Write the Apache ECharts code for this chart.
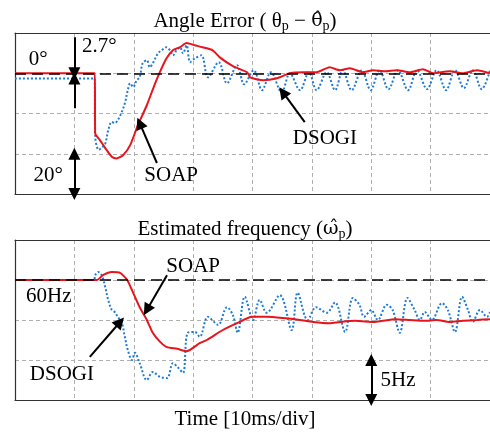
<!DOCTYPE html>
<html><head><meta charset="utf-8">
<script src="https://cdn.jsdelivr.net/npm/echarts@6/dist/echarts.min.js"></script>
<style>html,body{margin:0;padding:0;background:#fff}#c{width:490px;height:432px}</style>
</head><body><div id="c"></div>
<script>
// ---- data (time in ms, 10 ms/div) ----
const timeRange = [0, 80];
const angleRange = [-60, 20];
const freqRange = [45, 65];

const soapAngleT = [0, 13.45, 13.5, 14.3, 15.2, 16.3, 17.1, 18.2, 19.4, 20.7, 22.2, 23.6, 24.4, 25.5, 26.6, 27.8, 28.9, 30.3, 31.6, 33.3, 34.5, 36.7, 39.1, 39.6, 41.8, 44.1, 46.3, 48.5, 50.8, 53.0, 54.7, 56.4, 58.6, 60.3, 62.3, 64.3, 66.5, 68.7, 70.4, 73.2, 75.4, 77.8, 80];
const soapAngle  = [0, 0, -29.8, -33.2, -37.2, -41.5, -42.3, -40.7, -35.7, -25.8, -15.9, -5, 0.6, 7.3, 11.4, 13, 15, 13.9, 12.9, 11.4, 7.9, 3.5, 0.5, -2, -3.5, -2.5, 0, 0.5, 0.5, 3, 1.5, 2.5, 0.5, 1.5, 1.0, 1.5, 0.5, 2, 0, 1, 0, 1.5, 0];

const dsogiAngleT = [0, 13.4, 13.5, 14.1, 14.6, 15.2, 15.7, 16.3, 16.8, 17.3, 17.9, 18.5, 19.0, 19.4, 19.9, 20.5, 21.0, 21.5, 22.2, 22.7, 23.2, 24.1, 24.7, 25.5, 26.1, 26.6, 27.2, 27.8, 28.3, 28.9, 29.5, 30.3, 31.4, 32.5, 34.3, 35.7, 37.4, 38.6, 40.2, 41.6, 43.1, 44.9, 46.3, 48.0, 49.5, 50.8, 52.5, 53.9, 55.2, 56.7, 58.4, 59.9, 61.4, 62.9, 64.5, 66.2, 67.7, 69.4, 71.0, 72.6, 74.1, 75.6, 77.1, 78.6, 80];
const dsogiAngle  = [-2.6, -2.6, -31, -38, -37, -35, -28.3, -24.2, -24.8, -23.3, -19.8, -14.9, -8.4, -5, -6.9, -3.5, -2, 5, 6.5, 3, 5, 9.9, 11.4, 12.9, 11.4, 8.9, 11.4, 12.9, 9.9, 13.9, 5.5, 7.4, 8.9, -2, 5.5, -5, 4, -5.5, 1.5, -8.4, 0.5, -9.4, 0, -8.4, 0.5, -8.4, 0.5, -8.4, 1.5, -8.4, 1.5, -8.4, 1.5, -7.9, 1.5, -8.4, 1.5, -7.9, 1.5, -8.4, 1.5, -7.4, 1.5, -7.9, 1.5];

const soapFreqT = [0, 13.8, 14.8, 16.3, 17.7, 18.9, 19.9, 21.0, 22.2, 23.2, 24.4, 25.6, 27.3, 28.9, 31.1, 32.3, 35.0, 37.4, 39.9, 42.4, 45.1, 48.0, 50.2, 53.0, 54.7, 57.3, 60.6, 64.1, 66.5, 69.0, 71.0, 73.2, 75.4, 77.8, 80];
const soapFreq  = [60, 60, 60.6, 61, 60.9, 60, 58.4, 56.6, 55, 53.4, 52.3, 51.6, 51.4, 51.1, 52.1, 52.5, 53.75, 54.6, 55.4, 55.4, 55.25, 55, 54.75, 54.6, 54.75, 54.9, 54.75, 55.1, 55, 54.9, 55, 54.75, 54.9, 55, 55.1];

const dsogiFreqT = [0, 13.3, 13.5, 14.0, 14.6, 15.2, 15.7, 16.3, 16.8, 17.3, 18.0, 18.5, 19.0, 19.7, 20.2, 21.0, 22.2, 23.2, 24.4, 25.6, 26.6, 27.4, 28.3, 29.1, 30.3, 31.1, 32.5, 34.2, 35.7, 36.7, 37.5, 38.7, 40.1, 41.2, 42.4, 44.6, 46.6, 47.6, 49.3, 50.7, 52.5, 53.9, 55.6, 56.9, 58.0, 58.8, 60.0, 61.1, 62.6, 63.6, 64.8, 66.1, 67.3, 68.2, 69.0, 70.2, 71.9, 72.9, 74.1, 75.3, 76.3, 77.1, 78.3, 79.5, 80];
const dsogiFreq  = [60, 60, 60.6, 61, 60.6, 59.1, 57.5, 56.25, 56, 55.4, 54.6, 52.9, 51.25, 50, 50.9, 49.6, 47.5, 48.5, 47.9, 47.75, 49.6, 49.1, 48.4, 53.4, 53.5, 52.9, 55.4, 54.4, 56.6, 55.6, 53.4, 57.9, 55, 57.5, 55.9, 58.1, 53.75, 58.4, 55.0, 56.6, 55.9, 57.2, 53.5, 57.75, 56.9, 55.4, 56.25, 55, 56.9, 56.25, 53.4, 57.75, 56.25, 55, 56, 55, 57.1, 56.25, 53.5, 57.9, 56.25, 54.75, 56.25, 55.4, 56];

// ---- annotations (data coordinates) ----
const topLabels = [['0°', 3.9, 6.9], ['2.7°', 14.2, 13.4], ['20°', 5.6, -50.6], ['SOAP', 26.3, -50.6], ['DSOGI', 52.2, -32.2]];
const botLabels = [['60Hz', 5.7, 58], ['SOAP', 30, 61.75], ['DSOGI', 7.9, 48.25], ['5Hz', 64.5, 47.4]];
const topArrows = [[[10, 17.9], [10, 0], 1], [[10, -17.4], [10, -2.6], 1], [[10, -40], [10, -60], 2], [[23.9, -44.6], [21.0, -24.8], 1], [[48.8, -24.3], [45.1, -9.4], 1]];
const botArrows = [[[25.6, 60.6], [22.2, 56.25], 1], [[12.6, 50.4], [17.7, 54.75], 1], [[60, 50], [60, 45], 2]];

const zip = (t, v) => t.map((x, i) => [x, v[i]]);
const FONT = 'Liberation Serif';
const FS = 21;
const RED = '#e8141b', BLUE = '#1f7bd6';

function arrowLines(list) {
  return list.map(a => [
    {coord: a[0], symbol: a[2] === 2 ? 'triangle' : 'none'},
    {coord: a[1], symbol: 'triangle'}
  ]);
}
function labelPoints(list) {
  return list.map(l => ({coord: [l[1], l[2]], value: l[0],
    label: {show: true, formatter: l[0], position: 'inside', color: '#000', fontSize: FS, fontFamily: FONT}}));
}
function helper(gi, refY) {
  return {
    type: 'line', xAxisIndex: gi, yAxisIndex: gi, data: [], z: 1, silent: true,
    markLine: {
      silent: true, symbol: 'none', label: {show: false}, animation: false,
      lineStyle: {color: '#000', width: 1.6, type: [11, 6]},
      data: [{yAxis: refY}]
    }
  };
}
function arrowsSeries(gi, arrows, labels) {
  return {
    type: 'line', xAxisIndex: gi, yAxisIndex: gi, data: [], z: 5, silent: true,
    markLine: {
      silent: true, symbolSize: 12, label: {show: false}, animation: false,
      lineStyle: {color: '#000', width: 2, type: 'solid'},
      emphasis: {disabled: true},
      data: arrowLines(arrows)
    },
    markPoint: {
      silent: true, symbol: 'rect', symbolSize: 1, itemStyle: {color: 'rgba(0,0,0,0)'}, animation: false,
      data: labelPoints(labels)
    }
  };
}

const gridLine = {show: true, showMinLine: false, showMaxLine: false, lineStyle: {color: '#b0b0b0', type: [4, 3], width: 1}};
const frameLine = {show: true, lineStyle: {color: '#333', width: 1.2}};
function xAx(gi, pos) {
  return {
    gridIndex: gi, position: pos, type: 'value', min: timeRange[0], max: timeRange[1], interval: 10,
    axisLine: Object.assign({onZero: false}, frameLine), axisTick: {show: false}, axisLabel: {show: false},
    splitLine: pos === 'bottom' ? gridLine : {show: false}
  };
}
function yAx(gi, range, step) {
  return {
    gridIndex: gi, type: 'value', min: range[0], max: range[1], interval: step,
    axisLine: Object.assign({onZero: false}, frameLine), axisTick: {show: false}, axisLabel: {show: false},
    splitLine: gridLine
  };
}

const rich = {
  n: {fontFamily: FONT, fontSize: FS, fontWeight: 'normal', color: '#000', lineHeight: 24, verticalAlign: 'middle'},
  h: {fontFamily: 'DejaVu Serif', fontSize: 19, fontWeight: 'normal', color: '#000', lineHeight: 24, verticalAlign: 'middle'},
  s: {fontFamily: FONT, fontSize: 14, fontWeight: 'normal', color: '#000', lineHeight: 10, verticalAlign: 'bottom'}
};

const option = {
  animation: false,
  backgroundColor: '#fff',
  title: [
    {text: '{n|Angle Error ( θ}{s|p}{n| − }{h|θ̂}{s|p}{n|)}', left: 'center', top: 4, textStyle: {rich, fontWeight: 'normal'}},
    {text: '{n|Estimated frequency (}{h|ω̂}{s|p}{n|)}', left: 'center', top: 212, textStyle: {rich, fontWeight: 'normal'}},
    {text: 'Time [10ms/div]', left: 'center', top: 404, textStyle: {fontFamily: FONT, fontSize: FS, fontWeight: 'normal', color: '#000'}}
  ],
  grid: [
    {left: 15, top: 33, width: 476, height: 161},
    {left: 15, top: 240, width: 476, height: 160}
  ],
  xAxis: [xAx(0, 'bottom'), xAx(1, 'bottom'), xAx(0, 'top'), xAx(1, 'top')],
  yAxis: [yAx(0, angleRange, 20), yAx(1, freqRange, 5)],
  series: [
    helper(0, 0),
    helper(1, 60),
    {type: 'line', name: 'DSOGI', xAxisIndex: 0, yAxisIndex: 0, z: 2, data: zip(dsogiAngleT, dsogiAngle), showSymbol: false, smooth: 0.35,
      lineStyle: {color: BLUE, width: 2, type: [2, 2]}},
    {type: 'line', name: 'SOAP', xAxisIndex: 0, yAxisIndex: 0, z: 3, data: zip(soapAngleT, soapAngle), showSymbol: false, smooth: 0.2,
      lineStyle: {color: RED, width: 2}},
    {type: 'line', name: 'DSOGI', xAxisIndex: 1, yAxisIndex: 1, z: 2, data: zip(dsogiFreqT, dsogiFreq), showSymbol: false, smooth: 0.35,
      lineStyle: {color: BLUE, width: 2, type: [2, 2]}},
    {type: 'line', name: 'SOAP', xAxisIndex: 1, yAxisIndex: 1, z: 3, data: zip(soapFreqT, soapFreq), showSymbol: false, smooth: 0.2,
      lineStyle: {color: RED, width: 2}},
    arrowsSeries(0, topArrows, topLabels),
    arrowsSeries(1, botArrows, botLabels)
  ]
};
const chart = echarts.init(document.getElementById('c'), null, {renderer: 'canvas'});
chart.setOption(option);
</script>
</body></html>
